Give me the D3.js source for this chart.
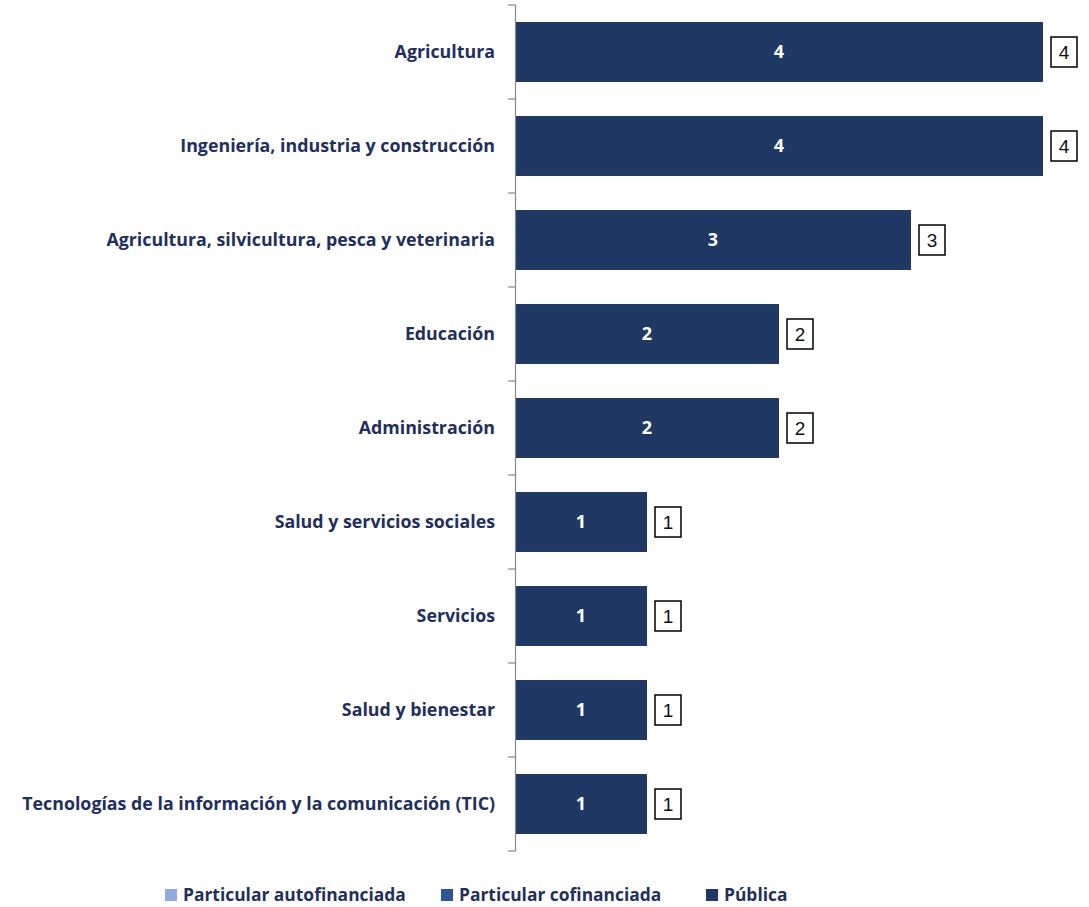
<!DOCTYPE html>
<html><head><meta charset="utf-8">
<script src="https://cdn.jsdelivr.net/npm/d3@7"></script>
<style>body{margin:0;background:#fff}svg{display:block}</style>
</head><body><svg id="c" width="1089" height="907"></svg>
<script>
const categories = ["Agricultura","Ingeniería, industria y construcción","Agricultura, silvicultura, pesca y veterinaria","Educación","Administración","Salud y servicios sociales","Servicios","Salud y bienestar","Tecnologías de la información y la comunicación (TIC)"];
const autofinanciada = [0,0,0,0,0,0,0,0,0];
const cofinanciada = [0,0,0,0,0,0,0,0,0];
const publica = [4,4,3,2,2,1,1,1,1];
const seriesNames = ["Particular autofinanciada","Particular cofinanciada","Pública"];
const colors = ["#8FAADC","#2F5597","#203864"];

const svg = d3.select("#c");
const font = "'Open Sans', Lato, sans-serif";
const x = d3.scaleLinear().domain([0,4]).range([515,1043]);
const y = d3.scaleBand().domain(categories).range([5,851]).paddingInner(0.362).paddingOuter(0.181);

const rows = categories.map((c,i)=>({cat:c, a:autofinanciada[i], b:cofinanciada[i], p:publica[i]}));
const stack = d3.stack().keys(["a","b","p"])(rows);

svg.selectAll("g.s").data(stack).join("g").attr("fill",(d,i)=>colors[i])
  .selectAll("rect").data(d=>d).join("rect")
  .attr("x",d=>x(d[0])).attr("width",d=>x(d[1])-x(d[0]))
  .attr("y",d=>y(d.data.cat)).attr("height",y.bandwidth());

// axis
const boundaries = d3.range(categories.length+1).map(i=>5 + i*(846/categories.length));
svg.append("line").attr("x1",515.5).attr("x2",515.5).attr("y1",5).attr("y2",851).attr("stroke","#888").attr("stroke-width",1.2);
svg.selectAll("line.t").data(boundaries).join("line").attr("class","t")
  .attr("x1",508).attr("x2",515.5).attr("y1",d=>d).attr("y2",d=>d).attr("stroke","#888").attr("stroke-width",1.2);

// category labels
const cats = svg.selectAll("text.cat").data(categories).join("text").attr("class","cat")
  .attr("x",495).attr("y",d=>y(d)+y.bandwidth()/2).attr("dy","0.35em")
  .attr("text-anchor","end").attr("font-family",font).attr("font-weight","bold")
  .attr("font-size",16).attr("fill","#1F2F5F").text(d=>d);
// fit to reference widths
const last = cats.filter((d,i)=>i===categories.length-1).node();
const fs = 16 * 473 / last.getComputedTextLength();
cats.attr("font-size",fs);

// value labels inside
svg.selectAll("text.v").data(rows).join("text").attr("class","v")
  .attr("x",d=>(x(0)+x(d.p))/2).attr("y",d=>y(d.cat)+y.bandwidth()/2).attr("dy","0.36em")
  .attr("text-anchor","middle").attr("font-family",font).attr("font-weight","bold")
  .attr("font-size",18).attr("fill","#fff").text(d=>d.p);

// total boxes
const tot = svg.selectAll("g.tot").data(rows).join("g").attr("class","tot")
  .attr("transform",d=>`translate(${x(d.a+d.b+d.p)+8},${y(d.cat)+y.bandwidth()/2})`);
tot.append("rect").attr("x",0).attr("y",-15).attr("width",26).attr("height",30)
  .attr("fill","#fff").attr("stroke","#000").attr("stroke-width",1.5);
tot.append("text").attr("x",13).attr("dy","0.36em").attr("text-anchor","middle")
  .attr("font-family","'Liberation Sans', Arial, sans-serif").attr("font-size",19).attr("fill","#111")
  .text(d=>d.a+d.b+d.p);

// legend
const legX = [165,441,706];
const lg = svg.selectAll("g.lg").data(seriesNames).join("g").attr("class","lg")
  .attr("transform",(d,i)=>`translate(${legX[i]},895)`);
lg.append("rect").attr("x",0).attr("y",-6).attr("width",12).attr("height",12).attr("fill",(d,i)=>colors[i]);
const lt = lg.append("text").attr("x",18).attr("dy","0.35em").attr("font-family",font).attr("font-weight","bold")
  .attr("font-size",16).attr("fill","#1F2F5F").text(d=>d);
const lfs = 16 * 223 / lt.filter((d,i)=>i===0).node().getComputedTextLength();
lt.attr("font-size",lfs);
</script></body></html>
